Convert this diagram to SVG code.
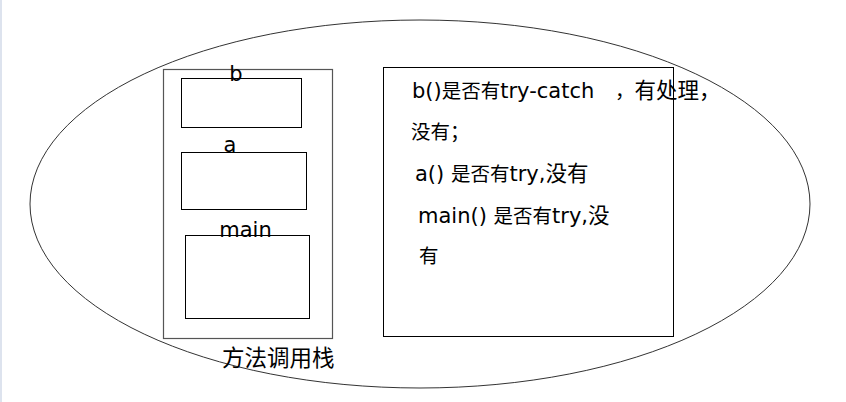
<svg xmlns="http://www.w3.org/2000/svg" width="846" height="402" viewBox="0 0 846 402">
<style>
.t{font-family:"DejaVu Sans","Segoe UI",sans-serif;fill:#000;font-size:21px}
.c{font-family:"Noto Sans CJK SC","Microsoft YaHei",sans-serif;font-size:19.5px}
.cb{font-family:"Noto Sans CJK SC","Microsoft YaHei",sans-serif;font-size:21.5px}
.box{fill:none;stroke:#000;stroke-width:1}
.gbox{fill:none;stroke:#555;stroke-width:1.2}
</style>
<rect x="0" y="0" width="846" height="402" fill="#fff"/>
<rect x="0" y="0" width="2" height="402" fill="#dde3ee"/>
<g id="outer">
<ellipse cx="420" cy="204" rx="390" ry="184" fill="none" stroke="#333" stroke-width="1"/>
</g>
<g id="stack">
<rect class="gbox" x="163.5" y="69.5" width="169" height="269"/>
<text class="t" x="222" y="366"><tspan class="c" style="font-size:22.5px">方法调用栈</tspan></text>
</g>
<g id="frame-b">
<rect class="box" x="181.5" y="78.5" width="120" height="49"/>
<text class="t" x="236" y="81" text-anchor="middle">b</text>
</g>
<g id="frame-a">
<rect class="box" x="181.5" y="152.5" width="125" height="57"/>
<text class="t" x="230" y="152" text-anchor="middle">a</text>
</g>
<g id="frame-main">
<rect class="box" x="185.5" y="235.5" width="124" height="83"/>
<text class="t" x="245.5" y="237" text-anchor="middle">main</text>
</g>
<g id="note">
<rect class="box" x="383.5" y="67.5" width="290" height="269"/>
<text class="t" x="412" y="98">b()<tspan class="c">是否有</tspan>try-catch<tspan class="c" x="615">，</tspan><tspan class="cb">有处理，</tspan></text>
<text class="t" x="411" y="139"><tspan class="c">没有；</tspan></text>
<text class="t" x="415" y="181">a() <tspan class="c">是否有</tspan>try,<tspan class="cb">没有</tspan></text>
<text class="t" x="418" y="223">main() <tspan class="c">是否有</tspan>try,<tspan class="cb">没</tspan></text>
<text class="t" x="419" y="263"><tspan class="c">有</tspan></text>
</g>
<g id="connectors"></g>
</svg>
